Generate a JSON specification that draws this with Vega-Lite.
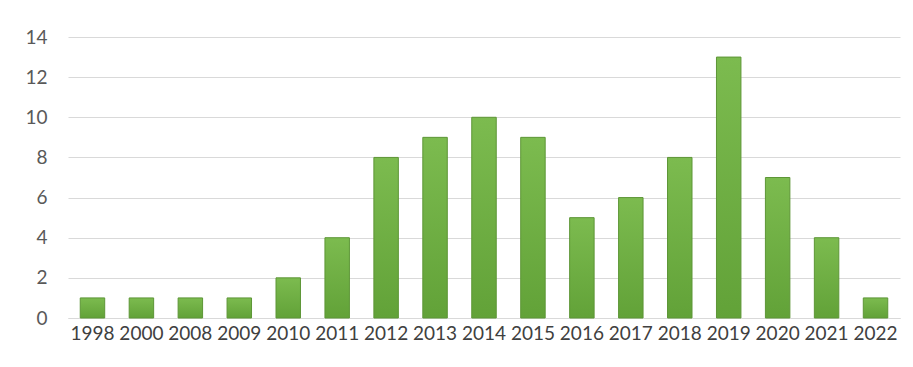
{
  "$schema": "https://vega.github.io/schema/vega-lite/v6.json",
  "width": 832,
  "height": 281,
  "autosize": {"type": "none"},
  "padding": {"left": 68, "top": 37, "right": 13, "bottom": 49},
  "background": "white",
  "data": {"values": [
    {"year": "1998", "count": 1},
    {"year": "2000", "count": 1},
    {"year": "2008", "count": 1},
    {"year": "2009", "count": 1},
    {"year": "2010", "count": 2},
    {"year": "2011", "count": 4},
    {"year": "2012", "count": 8},
    {"year": "2013", "count": 9},
    {"year": "2014", "count": 10},
    {"year": "2015", "count": 9},
    {"year": "2016", "count": 5},
    {"year": "2017", "count": 6},
    {"year": "2018", "count": 8},
    {"year": "2019", "count": 13},
    {"year": "2020", "count": 7},
    {"year": "2021", "count": 4},
    {"year": "2022", "count": 1}
  ]},
  "mark": {
    "type": "bar",
    "stroke": "#5d9636",
    "strokeWidth": 1,
    "color": {
      "gradient": "linear", "x1": 0, "x2": 0, "y1": 0, "y2": 1,
      "stops": [
        {"offset": 0, "color": "#7cbb4f"},
        {"offset": 1, "color": "#62a238"}
      ]
    }
  },
  "encoding": {
    "x": {
      "field": "year", "type": "ordinal", "sort": null,
      "scale": {"paddingInner": 0.5, "paddingOuter": 0.25},
      "axis": {"title": null, "labelAngle": 0, "ticks": false, "domain": true, "domainColor": "#d9d9d9",
               "labelFont": "Lato", "labelFontSize": 19, "labelColor": "#404040", "labelPadding": 6}
    },
    "y": {
      "field": "count", "type": "quantitative",
      "scale": {"domain": [0, 14], "nice": false},
      "axis": {"title": null, "values": [0, 2, 4, 6, 8, 10, 12, 14], "ticks": false, "domain": false,
               "gridColor": "#d9d9d9", "labelFont": "Lato", "labelFontSize": 19, "labelColor": "#595959", "labelPadding": 21}
    }
  },
  "config": {"view": {"stroke": null}}
}
